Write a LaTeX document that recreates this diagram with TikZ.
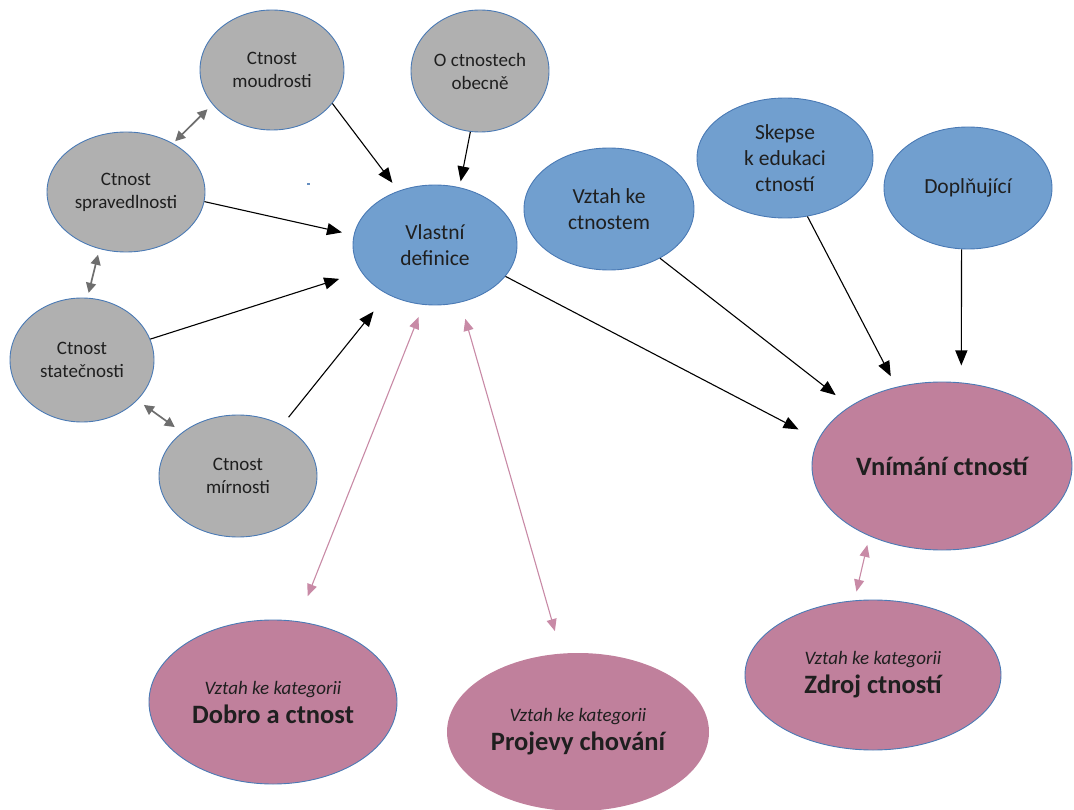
\documentclass[tikz,border=0pt]{standalone}
\usepackage{fontspec}
\setmainfont{Carlito}
\usetikzlibrary{shapes.geometric,arrows.meta}
\definecolor{grayfill}{HTML}{B0B0B0}
\definecolor{bluefill}{HTML}{719FCF}
\definecolor{pinkfill}{HTML}{C0809C}
\definecolor{rimblue}{HTML}{4A7AB5}
\definecolor{grayarrow}{HTML}{6E6E6E}
\definecolor{pinkarrow}{HTML}{C88AA6}

\begin{document}
\begin{tikzpicture}[x=1pt,y=-1pt,
  bubble/.style={ellipse, inner sep=0pt, align=center, draw=rimblue,
    line width=0.9pt, text=black!88},
  grayb/.style={bubble, fill=grayfill, font=\fontsize{19}{23}\selectfont},
  blueb/.style={bubble, fill=bluefill, font=\fontsize{21.5}{26}\selectfont},
  pinkb/.style={bubble, fill=pinkfill, font=\fontsize{19}{29}\selectfont},
  headline/.style={font=\fontsize{26.5}{30}\selectfont\bfseries},
  conn/.style={line width=1.1pt, black,
    -{Triangle[length=15pt,width=12pt]}},
  gconn/.style={line width=1.7pt, grayarrow,
    {Triangle[length=10pt,width=10pt]}-{Triangle[length=10pt,width=10pt]}},
  pconn/.style={line width=1.1pt, pinkarrow,
    {Triangle[length=12pt,width=10pt]}-{Triangle[length=12pt,width=10pt]}}
]
\useasboundingbox (0,0) rectangle (1074,810);

% the four cardinal virtues and the general one
\node[grayb, minimum width=144pt, minimum height=120pt] (moud) at (272,70) {Ctnost\\moudrosti};
\node[grayb, minimum width=138pt, minimum height=122pt] (obec) at (480,71) {O ctnostech\\obecně};
\node[grayb, minimum width=158pt, minimum height=120pt] (sprav) at (126,192) {Ctnost\\spravedlnosti};
\node[grayb, minimum width=144pt, minimum height=124pt] (stat) at (82,360) {Ctnost\\statečnosti};
\node[grayb, minimum width=158pt, minimum height=122pt] (mirn) at (238,476) {Ctnost\\mírnosti};

% blue themes
\node[blueb, minimum width=164pt, minimum height=120pt] (vlast) at (435,245) {Vlastní\\definice};
\node[blueb, minimum width=170pt, minimum height=122pt] (vztah) at (609,209) {Vztah ke\\ctnostem};
\node[blueb, minimum width=176pt, minimum height=120pt] (skep) at (785,158) {Skepse\\k~edukaci\\ctností};
\node[blueb, minimum width=168pt, minimum height=122pt] (dopl) at (968,188) {Doplňující};

% categories
\node[pinkb, headline, minimum width=260pt, minimum height=168pt] (vnim) at (942,466) {Vnímání ctností};
\node[pinkb, minimum width=256pt, minimum height=150pt] (zdroj) at (873,675)
  {\textit{Vztah ke kategorii}\\{\fontsize{26.5}{30}\selectfont\bfseries Zdroj ctností}};
\node[pinkb, minimum width=248pt, minimum height=164pt] (dobro) at (273,702)
  {\textit{Vztah ke kategorii}\\{\fontsize{26.5}{30}\selectfont\bfseries Dobro a ctnost}};
\node[pinkb, draw=none, minimum width=262pt, minimum height=158pt] (proj) at (578,732)
  {\textit{Vztah ke kategorii}\\{\fontsize{26.5}{30}\selectfont\bfseries Projevy chování}};

% small stray mark
\fill[rimblue!85] (306.5,183) rectangle (310,185.5);

% into the own definition
\draw[conn, shorten >=10pt] (moud.-29) -- (vlast.124);
\draw[conn, shorten >=6pt] (obec.-99) -- (vlast.67);
\draw[conn, shorten >=12pt] (sprav.-7) -- (vlast.173);
\draw[conn, shorten >=23pt] (stat.17) -- (vlast.-160);
\draw[conn, shorten <=10pt, shorten >=22pt] (mirn.49) -- (vlast.-134);

% into the perception of virtues
\draw[conn, shorten >=22pt] (vlast.-24) -- (vnim.168);
\draw[conn, shorten >=18pt] (vztah.-44) -- (vnim.147);
\draw[conn, shorten >=12pt] (skep.-69) -- (vnim.120);
\draw[conn, shorten >=17pt] (dopl.-96) -- (vnim.77);

% links among the virtues
\draw[gconn, shorten <=3pt, shorten >=7pt] (sprav.46) -- (moud.-150);
\draw[gconn, shorten <=6pt, shorten >=5pt] (sprav.-115) -- (stat.85);
\draw[gconn, shorten <=8pt, shorten >=9pt] (stat.-36) -- (mirn.142);

% links to the categories
\draw[pconn, shorten <=13pt, shorten >=27pt] (vlast.-101) -- (dobro.73);
\draw[pconn, shorten <=17pt, shorten >=23pt] (vlast.-66) -- (proj.102);
\draw[pconn, shorten <=9pt, shorten >=9pt] (vnim.-136) -- (zdroj.104);
\end{tikzpicture}
\end{document}
